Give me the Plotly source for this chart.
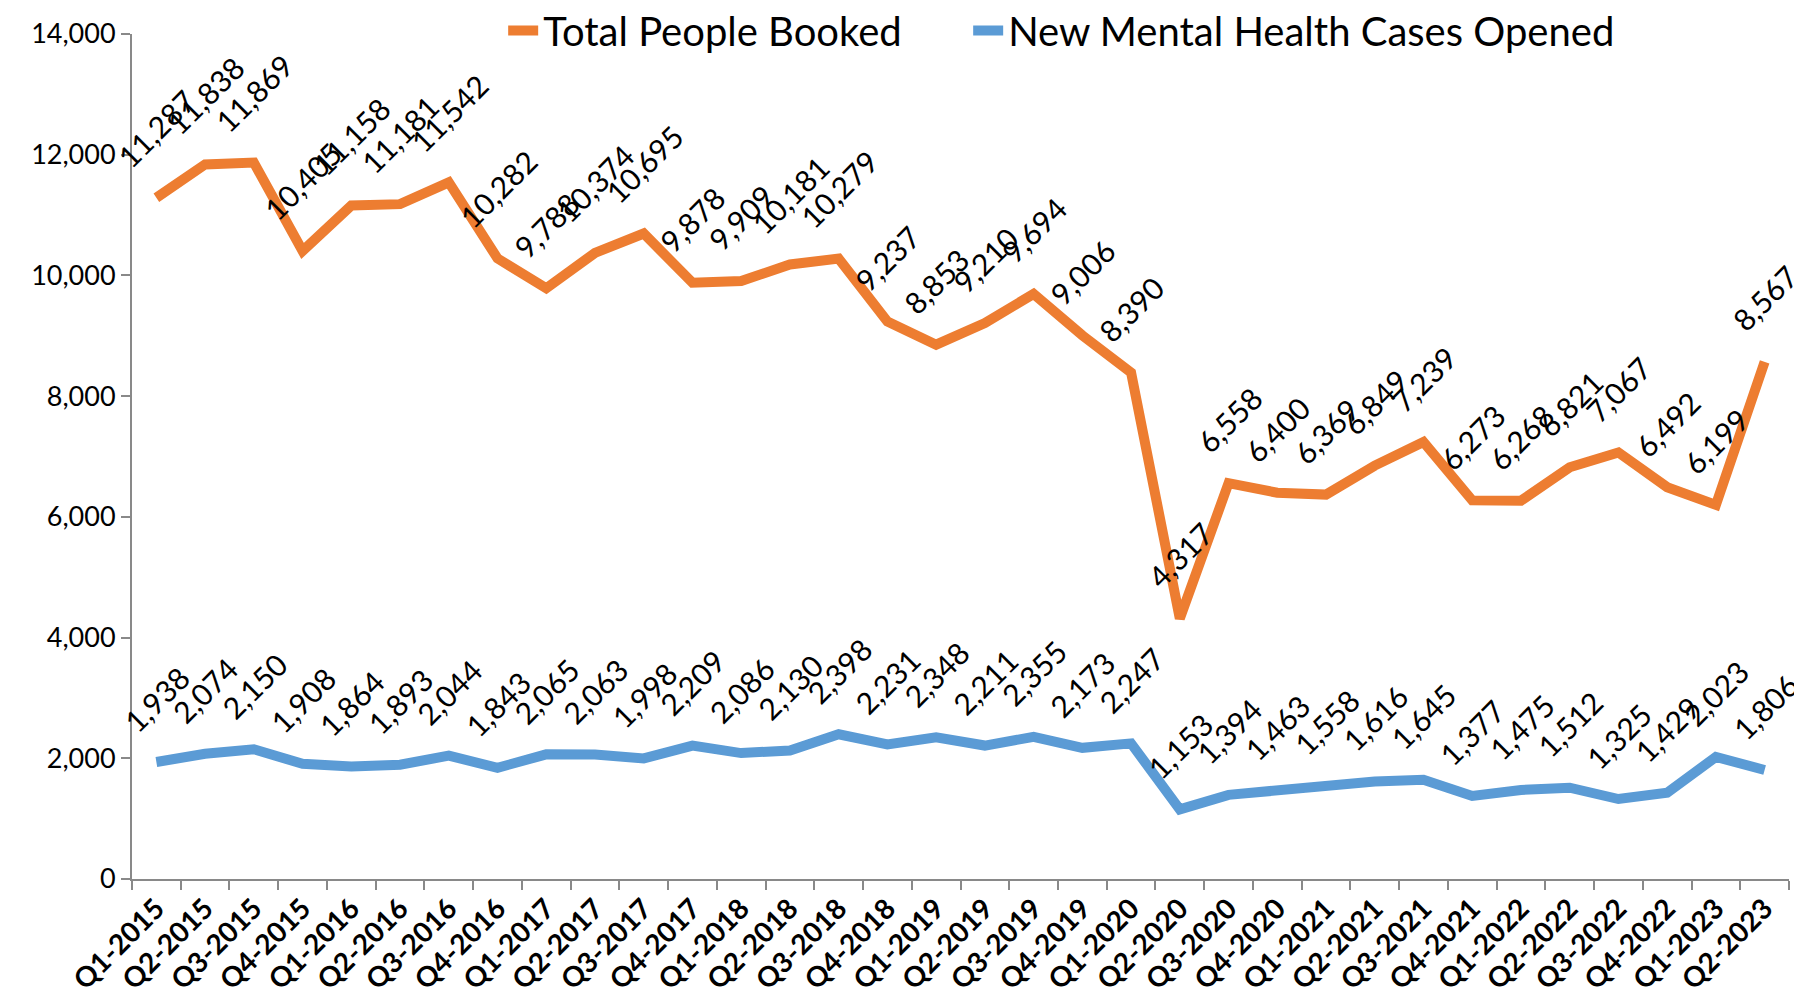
import plotly.graph_objects as go

quarters = ["Q1-2015","Q2-2015","Q3-2015","Q4-2015","Q1-2016","Q2-2016","Q3-2016","Q4-2016",
            "Q1-2017","Q2-2017","Q3-2017","Q4-2017","Q1-2018","Q2-2018","Q3-2018","Q4-2018",
            "Q1-2019","Q2-2019","Q3-2019","Q4-2019","Q1-2020","Q2-2020","Q3-2020","Q4-2020",
            "Q1-2021","Q2-2021","Q3-2021","Q4-2021","Q1-2022","Q2-2022","Q3-2022","Q4-2022",
            "Q1-2023","Q2-2023"]

total_booked = [11287, 11838, 11869, 10405, 11158, 11181, 11542, 10282, 9788, 10374, 10695, 9878,
                9909, 10181, 10279, 9237, 8853, 9210, 9694, 9006, 8390, 4317, 6558, 6400,
                6369, 6849, 7239, 6273, 6268, 6821, 7067, 6492, 6199, 8567]

mh_cases = [1938, 2074, 2150, 1908, 1864, 1893, 2044, 1843, 2065, 2063, 1998, 2209,
            2086, 2130, 2398, 2231, 2348, 2211, 2355, 2173, 2247, 1153, 1394, 1463,
            1558, 1616, 1645, 1377, 1475, 1512, 1325, 1429, 2023, 1806]

ORANGE = "#ED7D31"
BLUE = "#5B9BD5"
FONT = "Lato"

fig = go.Figure()
fig.add_trace(go.Scatter(x=quarters, y=total_booked, mode="lines",
                         name="Total People Booked\u00a0\u00a0\u00a0\u00a0\u00a0\u00a0",
                         line=dict(color=ORANGE, width=10)))
fig.add_trace(go.Scatter(x=quarters, y=mh_cases, mode="lines", name="New Mental Health Cases Opened",
                         line=dict(color=BLUE, width=10)))

annotations = []
for series in (total_booked, mh_cases):
    for q, v in zip(quarters, series):
        annotations.append(dict(x=q, y=v, xref="x", yref="y", text=f"{v:,}", showarrow=False,
                                textangle=-45, xanchor="center", yanchor="bottom", yshift=21,
                                font=dict(family=FONT, size=30, color="black")))

# page body has an 8px margin, so the figure is sized to fit the 1802x1000 window
fig.update_layout(
    width=1794, height=992,
    paper_bgcolor="white", plot_bgcolor="white",
    margin=dict(l=124, r=13, t=26, b=121, autoexpand=False),
    font=dict(family=FONT, color="black"),
    showlegend=True,
    legend=dict(orientation="h", x=0.224, xanchor="left", y=1.004, yanchor="middle",
                font=dict(family=FONT, size=40, color="black"), bgcolor="rgba(0,0,0,0)"),
    annotations=annotations,
)
fig.update_xaxes(type="category", range=[-0.5, len(quarters) - 0.5], showline=True,
                 linecolor="#898989", linewidth=2,
                 ticks="outside", tickson="boundaries", ticklen=9, tickcolor="#898989", tickwidth=2,
                 tickangle=-45, showgrid=False, zeroline=False,
                 tickfont=dict(family=FONT, size=28, color="black", weight="bold"))
fig.update_yaxes(range=[0, 14000], dtick=2000, tickformat=",", showline=True, linecolor="#898989",
                 linewidth=2, ticks="outside", ticklen=9, tickcolor="#898989", tickwidth=2,
                 showgrid=False, zeroline=False,
                 tickfont=dict(family=FONT, size=27, color="black"))

fig.write_html("out.html")
